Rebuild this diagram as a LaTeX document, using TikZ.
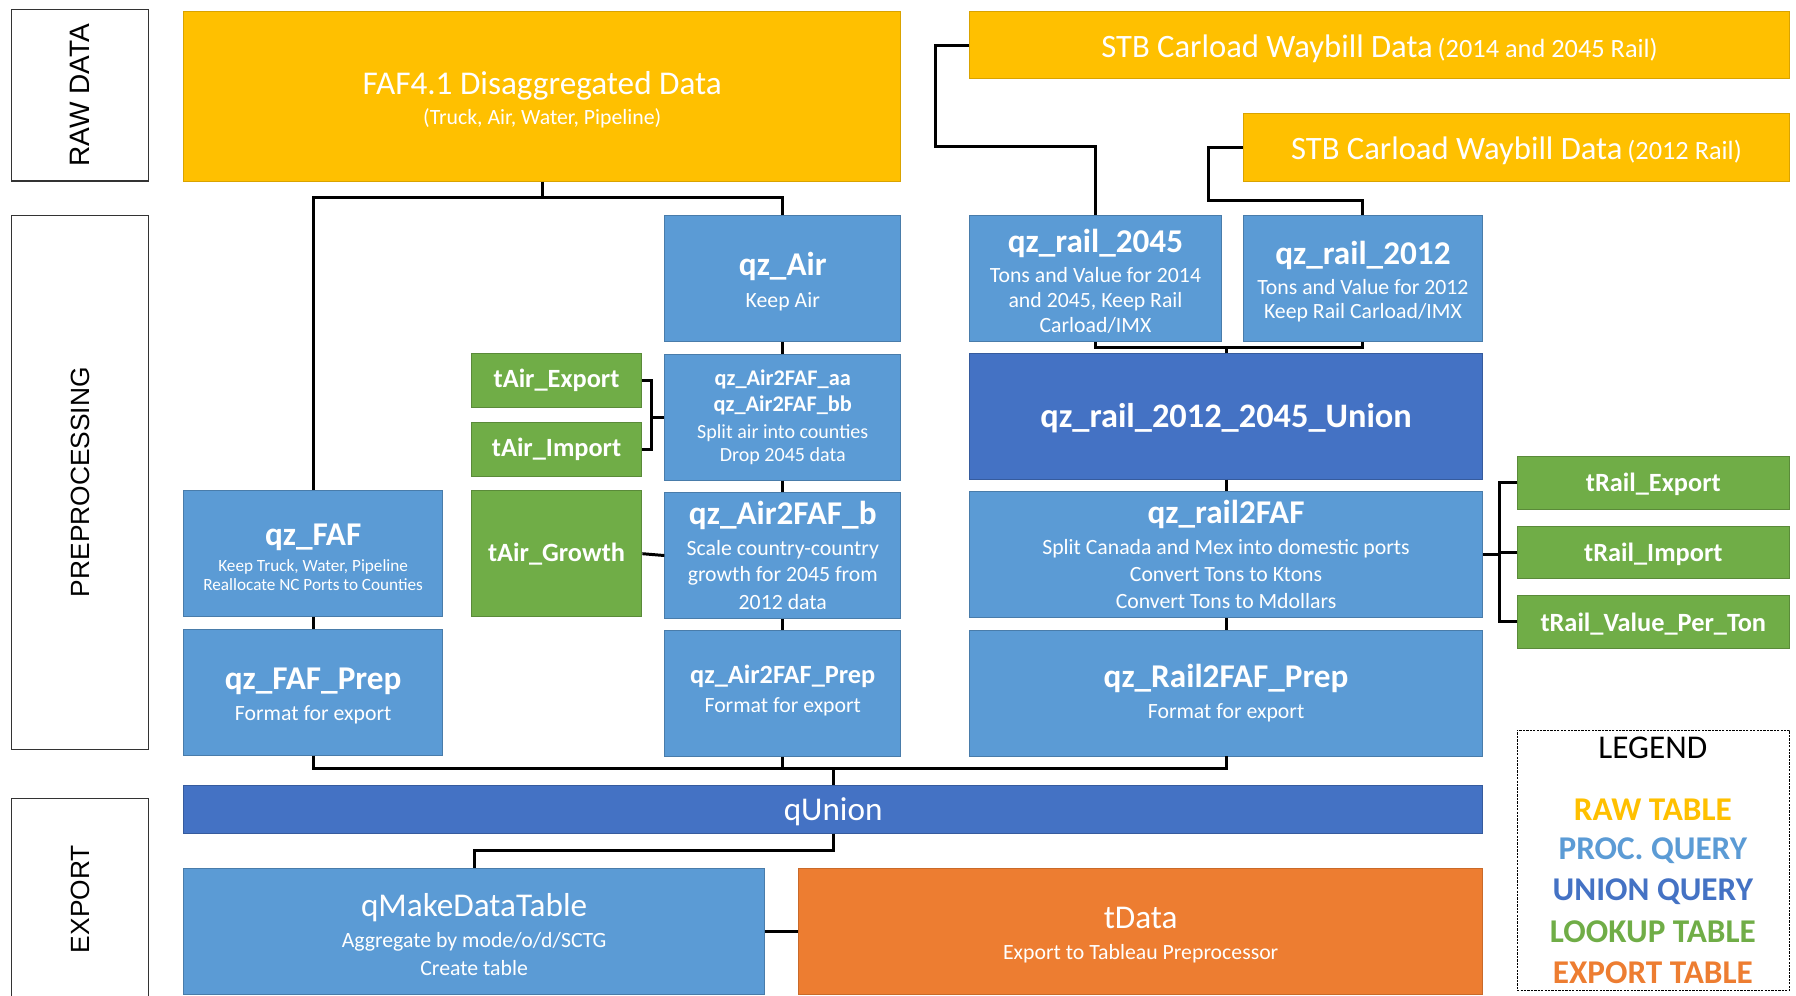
\documentclass[tikz,border=0pt]{standalone}
\usepackage{fontspec}
\setmainfont{Carlito}
\newfontfamily\arialfont{Liberation Sans}
\usetikzlibrary{positioning}
\definecolor{rawc}{HTML}{FFC000}
\definecolor{procc}{HTML}{5B9BD5}
\definecolor{unionc}{HTML}{4472C4}
\definecolor{lookc}{HTML}{70AD47}
\definecolor{expc}{HTML}{ED7D31}
\newcommand{\hd}[1]{{\fontsize{29}{32}\selectfont\bfseries\rule{0pt}{25pt}#1}}
\newcommand{\hdn}[1]{{\fontsize{29}{32}\selectfont\bfseries #1}}
\newcommand{\lgtxt}[1]{{\fontsize{29}{32}\selectfont\rule{0pt}{25pt}#1}}

\begin{document}
\begin{tikzpicture}[
x=1pt, y=1pt,
sz/.style 2 args={
  minimum width=#1pt,
  minimum height=#2pt
  },
box/.style={
  rectangle,
  draw,
  line width=0.8pt,
  text=white,
  align=center,
  inner sep=0pt,
  font=\fontsize{19}{23}\selectfont
  },
raw/.style={box, fill=rawc, draw=rawc!85!black},
proc/.style={box, fill=procc, draw=procc!80!black},
uni/.style={box, fill=unionc, draw=unionc!80!black},
look/.style={box, fill=lookc, draw=lookc!80!black, font=\fontsize{23}{26}\selectfont\bfseries},
expt/.style={box, fill=expc, draw=expc!85!black},
side/.style={
  draw=black!80,
  line width=1pt,
  inner sep=0pt,
  rotate=90,
  font=\arialfont\fontsize{23}{26}\selectfont
  },
legentry/.style={font=\fontsize{29}{32}\selectfont\bfseries},
link/.style={line width=2.6pt}
]
\useasboundingbox (0,0) rectangle (1568,-869);

% stage labels
\node[side, minimum width=150pt, minimum height=120pt, font=\arialfont\fontsize{24.5}{27}\selectfont] (sraw) at (70,-83) {RAW DATA};
\node[side, minimum width=466pt, minimum height=120pt] (spre) at (70,-421) {PREPROCESSING};
\node[side, minimum width=176pt, minimum height=120pt] (sexp) at (70,-785) {EXPORT};

% raw tables
\node[raw, sz={626}{148}, anchor=north west] (faf) at (160,-10)
  {\lgtxt{FAF4.1 Disaggregated Data}\\[3pt] (Truck, Air, Water, Pipeline)};
\node[raw, sz={716}{58}, anchor=north west] (stbold) at (846,-10)
  {{\fontsize{28.5}{32}\selectfont\rule{0pt}{26pt}STB Carload Waybill Data} {\fontsize{23}{26}\selectfont (2014 and 2045 Rail)}};
\node[raw, sz={477}{59}, anchor=north west] (stbnew) at (1085,-99)
  {{\fontsize{28.5}{32}\selectfont\rule{0pt}{25pt}STB Carload Waybill Data} {\fontsize{23}{26}\selectfont (2012 Rail)}};

% air column
\node[proc, sz={206}{110}, anchor=north west] (qzair) at (580,-188)
  {\hd{qz\_Air}\\[5pt] Keep Air};
\node[proc, sz={206}{110}, below=10pt of qzair, font=\fontsize{17.5}{20}\selectfont] (airaa)
  {{\fontsize{19.5}{23}\selectfont\bfseries qz\_Air2FAF\_aa}\\[3pt]
   {\fontsize{19.5}{23}\selectfont\bfseries qz\_Air2FAF\_bb}\\[3pt]
   Split air into counties\\ Drop 2045 data};
\node[proc, sz={206}{110}, below=10pt of airaa] (airb)
  {\hdn{qz\_Air2FAF\_b}\\[4pt] Scale country-country\\ growth for 2045 from\\[1pt] 2012 data};
\node[proc, sz={206}{110}, below=10pt of airb] (airprep)
  {{\fontsize{23}{26}\selectfont\bfseries qz\_Air2FAF\_Prep}\\[2pt] Format for export\rule[-9pt]{0pt}{0pt}};

% rail column
\node[proc, sz={220}{110}, anchor=north west] (r45) at (846,-188)
  {\hd{qz\_rail\_2045}\\[3pt] Tons and Value for 2014\\[-1pt] and 2045, Keep Rail\\[-1pt] Carload/IMX};
\node[proc, sz={209}{110}, anchor=north west] (r12) at (1085,-188)
  {\hd{qz\_rail\_2012}\\[3pt] Tons and Value for 2012\\[-2pt] Keep Rail Carload/IMX};
\node[uni, sz={448}{110}, anchor=north west] (runion) at (846,-308)
  {{\fontsize{30}{33}\selectfont\bfseries\rule{0pt}{25pt}qz\_rail\_2012\_2045\_Union}};
\node[proc, sz={448}{110}, below=10pt of runion] (r2faf)
  {\hdn{qz\_rail2FAF}\\[4pt] Split Canada and Mex into domestic ports\\ Convert Tons to Ktons\\[1pt] Convert Tons to Mdollars};
\node[proc, sz={448}{110}, below=10pt of r2faf] (railprep)
  {\hdn{qz\_Rail2FAF\_Prep}\\[4pt] Format for export};

% faf column
\node[proc, sz={226}{110}, anchor=north west, font=\fontsize{15}{17}\selectfont] (qzfaf) at (160,-428)
  {\hd{qz\_FAF}\\[6pt] Keep Truck, Water, Pipeline\\ Reallocate NC Ports to Counties};
\node[proc, sz={226}{110}, below=10pt of qzfaf] (fafprep)
  {\hd{qz\_FAF\_Prep}\\[4pt] Format for export};

% lookup tables
\node[look, sz={149}{47}, anchor=north west] (taexp) at (411,-308) {tAir\_Export};
\node[look, sz={149}{47}, below=13pt of taexp] (taimp) {tAir\_Import};
\node[look, sz={149}{110}, anchor=north west] (tagrow) at (411,-428) {tAir\_Growth};
\node[look, sz={238}{46}, anchor=north west] (trexp) at (1324,-398) {\rule{0pt}{19pt}tRail\_Export};
\node[look, sz={238}{46}, below=14pt of trexp] (trimp) {\rule{0pt}{19pt}tRail\_Import};
\node[look, sz={238}{46}, below=14pt of trimp] (trvpt) {\rule{0pt}{19pt}tRail\_Value\_Per\_Ton};

% export
\node[uni, sz={1134}{42}, anchor=north west] (qunion) at (160,-685) {\lgtxt{qUnion}};
\node[proc, sz={507}{110}, anchor=north west] (qmake) at (160,-758)
  {\lgtxt{qMakeDataTable}\\[4pt] Aggregate by mode/o/d/SCTG\\[1pt] Create table};
\node[expt, sz={597}{110}, anchor=north west] (tdata) at (697,-758)
  {\lgtxt{tData}\\[4pt] Export to Tableau Preprocessor};

% legend
\node[draw, dash pattern=on 2pt off 1pt, line width=1pt, sz={238}{227}, anchor=north west] (legend) at (1324,-637) {};
\node[font=\fontsize{29}{32}\selectfont] (legtitle) at (1443,-653) {LEGEND};
\foreach \txt/\col [count=\i] in {RAW TABLE/rawc, PROC. QUERY/procc, UNION QUERY/unionc, LOOKUP TABLE/lookc, EXPORT TABLE/expc}
  \node[legentry, text=\col] (leg\i) at (1443,-671-35.7*\i) {\txt};

% connectors
\coordinate (fafj) at ([yshift=-14pt]faf.south);
\draw[link] (faf.south) -- (fafj);
\draw[link] (qzfaf.north) |- (fafj) -| (qzair.north);
\draw[link] (stbold.west) -- ++(-29,0) |- ([yshift=60pt]r45.north) -- (r45.north);
\draw[link] (stbnew.west) -- ++(-30,0) |- ([yshift=13pt]r12.north) -- (r12.north);
\coordinate (rj) at ([yshift=5pt]runion.north);
\draw[link] (r45.south) |- (rj) -| (r12.south);
\draw[link] (rj) -- (runion.north);
\draw[link] (qzair.south) -- (airaa.north);
\coordinate (aj) at ([xshift=-11pt]airaa.west);
\draw[link] (taexp.east) -| (aj) |- (taimp.east);
\draw[link] (aj) -- (airaa.west);
\draw[link] (airaa.south) -- (airb.north);
\draw[link] (tagrow.east) -- (airb.west);
\draw[link] (qzfaf.south) -- (fafprep.north);
\draw[link] (airb.south) -- (airprep.north);
\draw[link] (runion.south) -- (r2faf.north);
\draw[link] (r2faf.south) -- (railprep.north);
\coordinate (tj) at ([xshift=14pt]r2faf.east);
\draw[link] (r2faf.east) -- (tj);
\draw[link] (trexp.west) -| (tj) |- (trvpt.west);
\draw[link] (tj |- trimp.west) -- (trimp.west);
\coordinate (uj) at ([yshift=14pt]qunion.north);
\draw[link] (fafprep.south) |- (uj) -| (railprep.south);
\draw[link] (airprep.south) -- (airprep.south |- uj);
\draw[link] (uj) -- (qunion.north);
\draw[link] (qunion.south) -- ++(0,-15) -| (qmake.north);
\draw[link] (qmake.east) -- (tdata.west);
\end{tikzpicture}
\end{document}
